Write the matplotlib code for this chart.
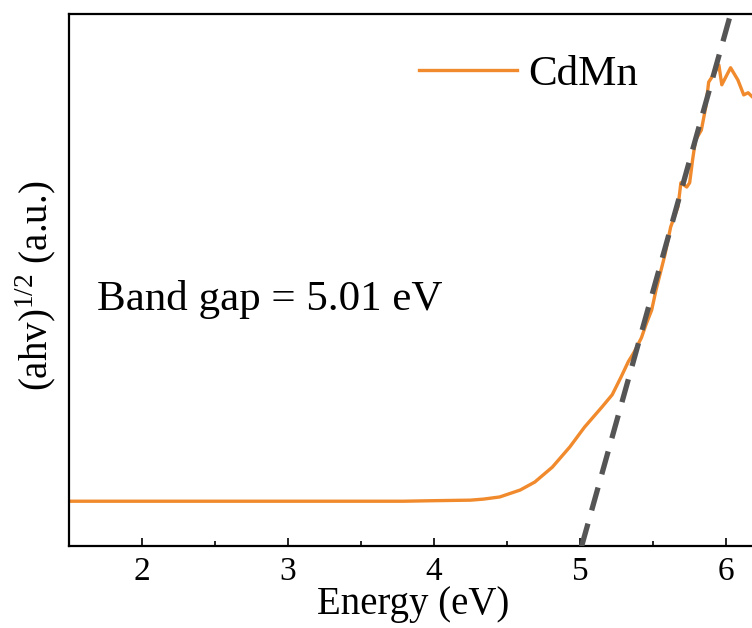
import matplotlib
matplotlib.use("Agg")
import matplotlib.pyplot as plt
import numpy as np

plt.rcParams['font.family'] = ['Liberation Serif', 'DejaVu Serif']
plt.rcParams['mathtext.fontset'] = 'custom'
plt.rcParams['mathtext.rm'] = 'Liberation Serif'

# CdMn spectrum
energy = [1.5, 2.0, 2.44, 2.9, 3.32, 3.79, 4.0, 4.25, 4.34, 4.45, 4.59, 4.69,
          4.81, 4.93, 5.03, 5.15, 5.22, 5.28, 5.33, 5.37, 5.42, 5.45, 5.49,
          5.52, 5.58, 5.62, 5.67, 5.69, 5.73, 5.75, 5.77, 5.79, 5.83, 5.86,
          5.88, 5.92, 5.95, 5.97, 6.03, 6.08, 6.12, 6.15, 6.18, 6.23]
signal = [0.085, 0.085, 0.085, 0.085, 0.085, 0.085, 0.086, 0.087, 0.089, 0.093,
          0.106, 0.121, 0.149, 0.187, 0.224, 0.262, 0.285, 0.318, 0.347, 0.365,
          0.392, 0.416, 0.444, 0.482, 0.547, 0.600, 0.638, 0.683, 0.675, 0.683,
          0.726, 0.763, 0.782, 0.825, 0.872, 0.889, 0.904, 0.867, 0.899, 0.876,
          0.848, 0.852, 0.844, 0.838]

# linear fit of the absorption edge
band_gap = 5.01
fit_slope = 0.98
fit_x = np.array([band_gap, 6.4])
fit_y = fit_slope * (fit_x - band_gap)

fig = plt.figure(figsize=(7.52, 6.28), dpi=100)
ax = fig.add_axes([0.0914, 0.1298, 0.9586, 0.848])

ax.plot(energy, signal, color='#F08A2C', lw=2.4, label='CdMn', zorder=2)
ax.plot(fit_x, fit_y, color='#555555', lw=3.8, ls=(0, (4.5, 2.6)), zorder=3)

ax.set_xlim(1.547, 6.434)
ax.set_ylim(0, 1)
ax.set_xticks([2, 3, 4, 5, 6])
ax.set_xticks(np.arange(1.5, 6.5, 0.5), minor=True)
ax.set_yticks([])
ax.tick_params(axis='x', which='major', direction='in', length=6, width=1.2,
               labelsize=24, pad=7)
ax.tick_params(axis='x', which='minor', direction='in', length=3.5, width=1.2)
for s in ax.spines.values():
    s.set_linewidth(1.6)

ax.set_xlabel('Energy (eV)', fontsize=28, va='top')
ax.xaxis.set_label_coords(0.4776, -0.075)
ax.set_ylabel(r'(ahv)$^{\mathrm{1/2}}$ (a.u.)', fontsize=28)
ax.yaxis.set_label_coords(-0.013, 0.49)

fig.text(97 / 752, 1 - 310 / 628, 'Band gap = 5.01 eV', fontsize=31,
         ha='left', va='baseline')

ax.legend(loc='center left', bbox_to_anchor=(419 / 752, 1 - 74 / 628),
          bbox_transform=fig.transFigure, frameon=False, fontsize=31,
          handlelength=2.28, handletextpad=0.25, borderpad=0, borderaxespad=0)

fig.savefig('out.png', dpi=100)
